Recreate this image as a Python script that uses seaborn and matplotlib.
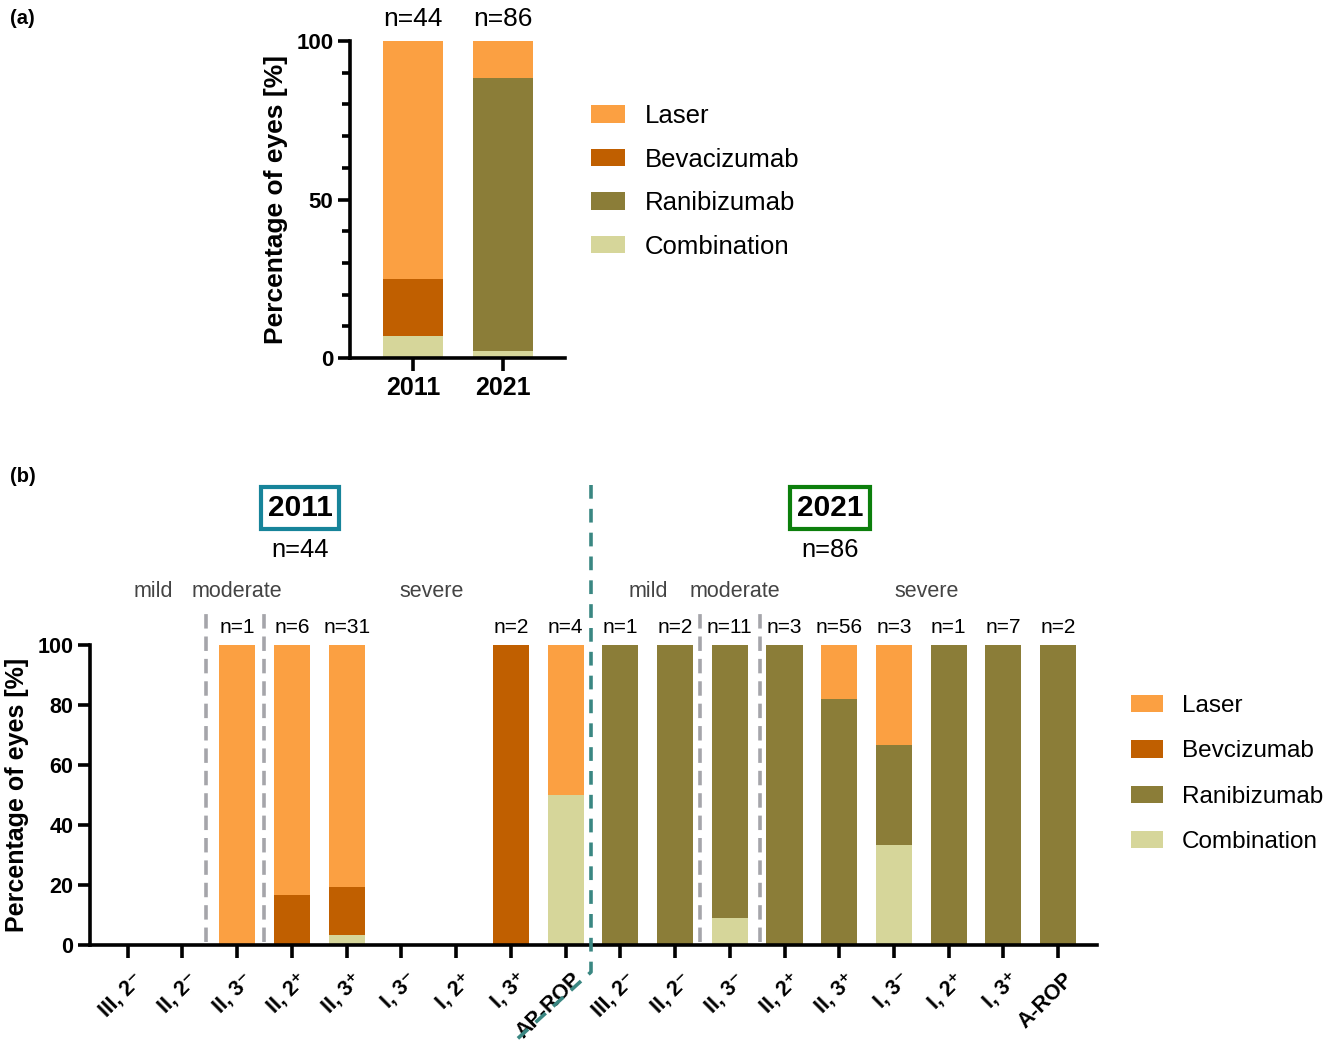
import numpy as np
import pandas as pd
import matplotlib
matplotlib.use("Agg")
import matplotlib.pyplot as plt
import matplotlib.transforms as mtransforms
from matplotlib.patches import Patch
from matplotlib.lines import Line2D
from matplotlib.ticker import MultipleLocator
import seaborn as sns

# ---------------- data ----------------
treatments = ["Laser", "Bevacizumab", "Ranibizumab", "Combination"]
legend_b_labels = ["Laser", "Bevcizumab", "Ranibizumab", "Combination"]
colors = {"Laser": "#FBA042", "Bevacizumab": "#C05F00",
          "Ranibizumab": "#8B7D38", "Combination": "#D6D69A"}

# panel (a): overall share per year
years = ["2011", "2021"]
year_n = [44, 86]
a_laser = [75.0, 11.6]
a_bevacizumab = [18.2, 0.0]
a_ranibizumab = [0.0, 86.1]
a_combination = [6.8, 2.3]

# panel (b): share per zone / stage
stages_2011 = ["III, 2⁻", "II, 2⁻", "II, 3⁻", "II, 2⁺", "II, 3⁺", "I, 3⁻", "I, 2⁺", "I, 3⁺", "AP-ROP"]
stages_2021 = ["III, 2⁻", "II, 2⁻", "II, 3⁻", "II, 2⁺", "II, 3⁺", "I, 3⁻", "I, 2⁺", "I, 3⁺", "A-ROP"]
n_2011 = [0, 0, 1, 6, 31, 0, 0, 2, 4]
n_2021 = [1, 2, 11, 3, 56, 3, 1, 7, 2]

laser_2011 = [0, 0, 100.0, 83.3, 80.7, 0, 0, 0, 50.0]
bevacizumab_2011 = [0, 0, 0, 16.7, 16.1, 0, 0, 100.0, 0]
ranibizumab_2011 = [0, 0, 0, 0, 0, 0, 0, 0, 0]
combination_2011 = [0, 0, 0, 0, 3.2, 0, 0, 0, 50.0]

laser_2021 = [0, 0, 0, 0, 17.9, 33.4, 0, 0, 0]
bevacizumab_2021 = [0, 0, 0, 0, 0, 0, 0, 0, 0]
ranibizumab_2021 = [100.0, 100.0, 90.9, 100.0, 82.1, 33.3, 100.0, 100.0, 100.0]
combination_2021 = [0, 0, 9.1, 0, 0, 33.3, 0, 0, 0]

# ---------------- tables ----------------
df_a = pd.DataFrame({"year": years, "Laser": a_laser, "Bevacizumab": a_bevacizumab,
                     "Ranibizumab": a_ranibizumab, "Combination": a_combination})

keys_b = [f"2011|{s}" for s in stages_2011] + [f"2021|{s}" for s in stages_2021]
df_b = pd.DataFrame({
    "key": keys_b,
    "stage": stages_2011 + stages_2021,
    "n": n_2011 + n_2021,
    "Laser": laser_2011 + laser_2021,
    "Bevacizumab": bevacizumab_2011 + bevacizumab_2021,
    "Ranibizumab": ranibizumab_2011 + ranibizumab_2021,
    "Combination": combination_2011 + combination_2021,
})

# stacking order from the baseline upward
stack_order = ["Combination", "Ranibizumab", "Bevacizumab", "Laser"]
for df in (df_a, df_b):
    df[[f"top_{t}" for t in stack_order]] = df[stack_order].cumsum(axis=1).values

# ---------------- style ----------------
sns.set_theme(style="ticks")
plt.rcParams["font.family"] = ["Liberation Sans", "DejaVu Sans"]
plt.rcParams.update({
    "text.color": "black", "axes.labelcolor": "black", "axes.edgecolor": "black",
    "xtick.color": "black", "ytick.color": "black",
    "axes.linewidth": 2.6, "xtick.major.width": 2.6,
    "ytick.major.width": 2.6, "ytick.minor.width": 2.6,
})

W, H = 1333, 1041
fig = plt.figure(figsize=(W / 100, H / 100), dpi=100)


def fx(px):
    return px / W


def fy(py):
    return 1 - py / H


# ---------------- panel (a) ----------------
ax_a = fig.add_axes([fx(350), fy(358), fx(565) - fx(350), fy(41) - fy(358)])
for t in reversed(stack_order):
    sns.barplot(data=df_a, x="year", y=f"top_{t}", order=years, color=colors[t],
                saturation=1, width=0.67, linewidth=0, errorbar=None, ax=ax_a)
ax_a.set_xlim(-0.7, 1.69)
ax_a.set_ylim(0, 100)
ax_a.yaxis.set_major_locator(MultipleLocator(50))
ax_a.yaxis.set_minor_locator(MultipleLocator(10))
ax_a.tick_params(axis="y", which="major", length=9, labelsize=16, pad=3)
ax_a.tick_params(axis="y", which="minor", length=6)
ax_a.tick_params(axis="x", length=9, labelsize=18, pad=4)
for lab in ax_a.get_xticklabels() + ax_a.get_yticklabels():
    lab.set_fontweight("bold")
ax_a.set_xlabel("")
ax_a.set_ylabel("Percentage of eyes [%]", fontsize=19, fontweight="bold", labelpad=6)
sns.despine(ax=ax_a)
for i, n in enumerate(year_n):
    ax_a.text(i, 103.2, f"n={n}", ha="center", va="bottom", fontsize=19, clip_on=False)

handles_a = [Patch(facecolor=colors[t], edgecolor="none") for t in treatments]
fig.legend(handles_a, treatments, loc="upper left",
           bbox_to_anchor=(fx(591), fy(104)), bbox_transform=fig.transFigure,
           frameon=False, fontsize=18.5, borderpad=0, borderaxespad=0,
           handlelength=1.33, handleheight=0.68, handletextpad=0.75, labelspacing=0.76)

fig.text(fx(10), fy(18), "(a)", fontsize=14.5, fontweight="bold", va="center", ha="left")

# ---------------- panel (b) ----------------
ax_b = fig.add_axes([fx(90), fy(945), fx(1097) - fx(90), fy(645) - fy(945)])
for t in reversed(stack_order):
    sns.barplot(data=df_b, x="key", y=f"top_{t}", order=keys_b, color=colors[t],
                saturation=1, width=0.66, linewidth=0, errorbar=None, ax=ax_b)
ax_b.set_xlim(-0.69, 17.71)
ax_b.set_ylim(0, 100)
ax_b.yaxis.set_major_locator(MultipleLocator(20))
ax_b.tick_params(axis="y", length=9, labelsize=15.5, pad=3)
ax_b.tick_params(axis="x", length=9, labelsize=15.5, pad=8)
ax_b.set_xticks(range(len(keys_b)))
ax_b.set_xticklabels(df_b["stage"], rotation=45, ha="right", va="top",
                     rotation_mode="anchor", fontweight="bold")
shift = mtransforms.ScaledTranslation(5 / 100, 0, fig.dpi_scale_trans)
for lab in ax_b.get_xticklabels():
    lab.set_transform(lab.get_transform() + shift)
for lab in ax_b.get_yticklabels():
    lab.set_fontweight("bold")
ax_b.set_xlabel("")
ax_b.set_ylabel("Percentage of eyes [%]", fontsize=18, fontweight="bold", labelpad=6)
sns.despine(ax=ax_b)

for i, n in enumerate(df_b["n"]):
    if n > 0:
        ax_b.text(i, 102.6, f"n={n}", ha="center", va="bottom", fontsize=15, clip_on=False)

# severity separators
for xs in (1.43, 2.49, 10.46, 11.56):
    ax_b.plot([xs, xs], [1, 111.7], color="#A5A5AA", lw=2.6, ls=(0, (4, 2.2)),
              clip_on=False, solid_capstyle="butt", dash_capstyle="butt")

# severity group labels
for xs, txt in [(0.46, "mild"), (2.0, "moderate"), (5.55, "severe"),
                (9.51, "mild"), (11.1, "moderate"), (14.6, "severe")]:
    ax_b.text(xs, 117.7, txt, ha="center", va="center", fontsize=15.5, color="#444444",
              clip_on=False)

# year headers
for px, yr, n, ec in [(300, "2011", 44, "#17849A"), (830, "2021", 86, "#0C7F0C")]:
    fig.text(fx(px), fy(508), yr, ha="center", va="center", fontsize=21.5, fontweight="bold",
             bbox=dict(boxstyle="square,pad=0.22", facecolor="white", edgecolor=ec, linewidth=3))
    fig.text(fx(px), fy(550), f"n={n}", ha="center", va="center", fontsize=18.4)

# divider between the two years
pts = np.array([[591, 485], [591, 972], [515, 1041]], dtype=float)
fig.add_artist(Line2D(fx(pts[:, 0]), fy(pts[:, 1]), transform=fig.transFigure,
                      color="#3A8782", lw=2.6, ls=(0, (3.8, 2.8))))

handles_b = [Patch(facecolor=colors[t], edgecolor="none") for t in treatments]
fig.legend(handles_b, legend_b_labels, loc="upper left",
           bbox_to_anchor=(fx(1131), fy(695)), bbox_transform=fig.transFigure,
           frameon=False, fontsize=17.5, borderpad=0, borderaxespad=0,
           handlelength=1.3, handleheight=0.72, handletextpad=0.78, labelspacing=0.95)

fig.text(fx(10), fy(477), "(b)", fontsize=14.5, fontweight="bold", va="center", ha="left")

fig.savefig("out.png", dpi=100, facecolor="white")
